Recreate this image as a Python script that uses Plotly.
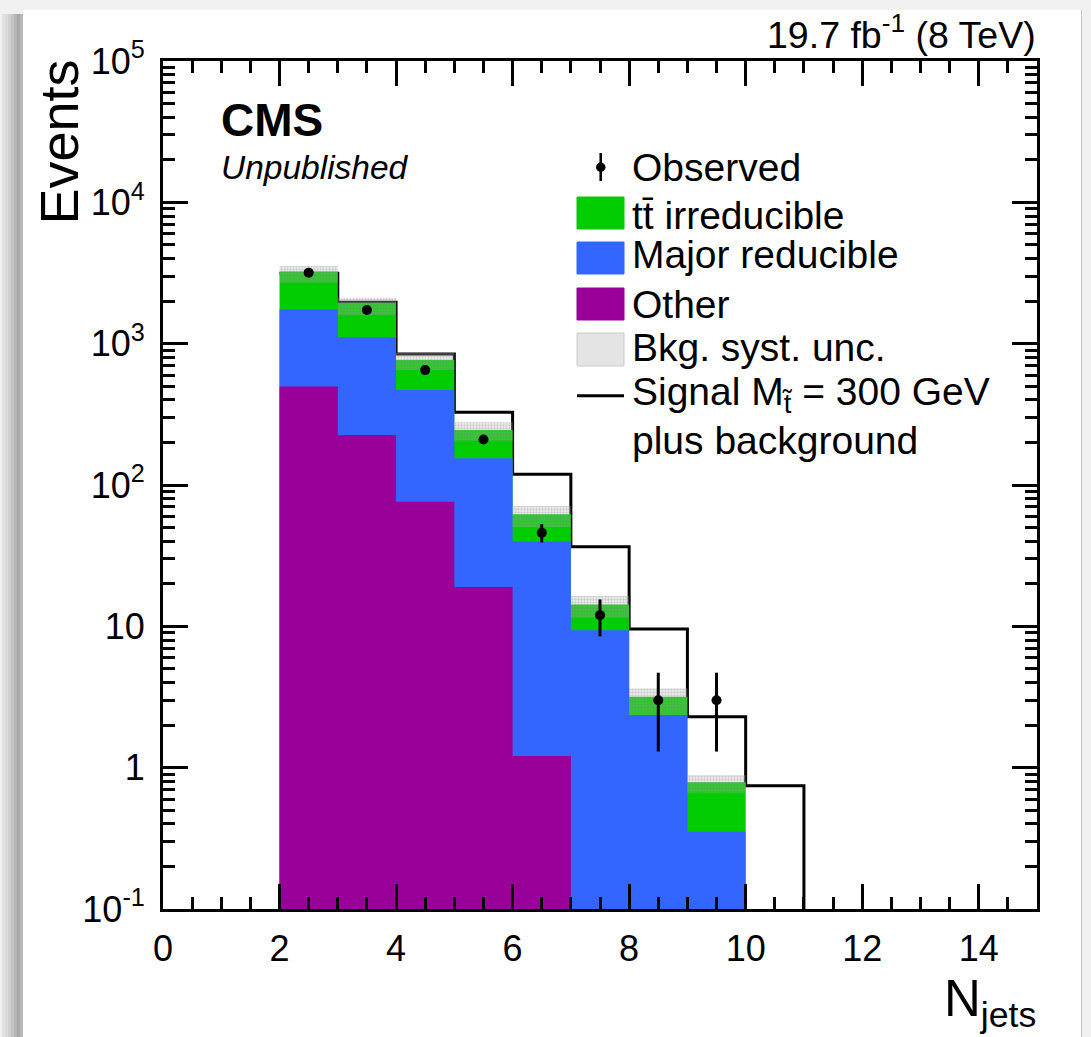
import plotly.graph_objects as go

# ---------------- data ----------------
# background bins (lower edges, width 1), N_jets = 2 .. 9
bin_low = [2, 3, 4, 5, 6, 7, 8, 9]
other = [497, 226, 76, 19, 1.21, 0, 0, 0]
major_reducible = [1253, 883, 394, 135.5, 38.5, 9.4, 2.36, 0.352]
ttbar_irreducible = [1478, 841, 296, 90.5, 22.3, 4.9, 0.82, 0.435]
bkg_unc_low = [2700, 1595, 651, 205.8, 50.2, 11.5, 2.36, 0.665]
bkg_unc_high = [3544, 2114, 863, 277.7, 71.0, 16.4, 3.64, 0.887]

# signal (M_stop = 300 GeV) plus background, N_jets = 2 .. 10
sig_bin_low = [2, 3, 4, 5, 6, 7, 8, 9, 10]
signal_plus_bkg = [3150, 1960, 845, 327, 119, 36.6, 9.57, 2.29, 0.746]

# observed data
obs_njets = [2.5, 3.5, 4.5, 5.5, 6.5, 7.5, 8.5, 9.5]
observed = [3180, 1730, 650, 210, 46, 12, 3, 3]
observed_err = [56, 42, 25, 14.5, 6.8, 3.5, 1.7, 1.7]

x_tick_vals = [0, 2, 4, 6, 8, 10, 12, 14]
y_tick_vals = [0.1, 1, 10, 100, 1000, 1e4, 1e5]
y_tick_text = ["10<sup>-1</sup>", "1", "10", "10<sup>2</sup>", "10<sup>3</sup>",
               "10<sup>4</sup>", "10<sup>5</sup>"]

# ---------------- geometry helpers ----------------
W, H = 1091, 1037
L, R, T, B = 163, 54, 61, 128
PW, PH = W - L - R, H - T - B
FONT = "Liberation Sans, Arial, Helvetica, sans-serif"
FLOOR = 1e-3  # below the visible log range, used to close filled outlines


def px(x):
    return (x - L) / PW


def py(y):
    return (H - B - y) / PH


def step_outline(lows, tops, rise=True):
    xs, ys = ([lows[0]], [FLOOR]) if rise else ([], [])
    for lo, top in zip(lows, tops):
        v = top if top > 0 else FLOOR
        xs += [lo, lo + 1]
        ys += [v, v]
    xs.append(lows[-1] + 1)
    ys.append(FLOOR)
    return xs, ys


lower_two = [o + m for o, m in zip(other, major_reducible)]
total_bkg = [s + t for s, t in zip(lower_two, ttbar_irreducible)]

fig = go.Figure()

# signal + background outline (drawn first so the stack hides it where lower)
sx, sy = step_outline(sig_bin_low, signal_plus_bkg, rise=False)
fig.add_trace(go.Scatter(x=sx, y=sy, mode="lines",
                         line=dict(color="black", width=3), hoverinfo="skip"))

# stacked background, largest outline first
for tops, color in [(total_bkg, "#00cc00"), (lower_two, "#3366ff"), (other, "#990099")]:
    xs, ys = step_outline(bin_low, tops)
    fig.add_trace(go.Scatter(x=xs, y=ys, mode="lines", fill="toself",
                             fillcolor=color, line=dict(width=0), hoverinfo="skip"))

# background systematic uncertainty band
ux, uy = [], []
for lo, a, b in zip(bin_low, bkg_unc_low, bkg_unc_high):
    ux += [lo, lo + 1, lo + 1, lo, lo, None]
    uy += [a, a, b, b, a, None]
fig.add_trace(go.Scatter(
    x=ux, y=uy, mode="lines", fill="toself", line=dict(width=0),
    fillcolor="rgba(0,0,0,0)",
    fillpattern=dict(shape=".", size=3, solidity=0.5,
                     fgcolor="rgba(120,120,120,0.6)", bgcolor="rgba(200,200,200,0.25)"),
    hoverinfo="skip"))

# observed data
fig.add_trace(go.Scatter(
    x=obs_njets, y=observed, mode="markers",
    marker=dict(color="black", size=10),
    error_y=dict(type="data", array=observed_err, thickness=3, width=0, color="black")))

# ---------------- page background with drop shadow ----------------
shapes = [
    dict(type="rect", xref="paper", yref="paper", layer="below",
         x0=px(23), x1=px(1081), y0=py(10), y1=py(1040),
         fillcolor="white", line=dict(width=0)),
    dict(type="line", xref="paper", yref="paper", layer="below",
         x0=px(1081.5), x1=px(1081.5), y0=py(10), y1=py(1040),
         line=dict(color="#c8c8c8", width=1)),
]
for i, c in enumerate(["#e2e2e2", "#dadada", "#d0d0d0", "#c4c4c4",
                       "#b6b6b6", "#a8a8a8", "#b8b8b8"]):
    x0 = 3 * i + 2
    shapes.append(dict(type="rect", xref="paper", yref="paper", layer="below",
                       x0=px(x0), x1=px(x0 + 3), y0=py(14), y1=py(1040),
                       fillcolor=c, line=dict(width=0)))

# ---------------- legend (drawn by hand) ----------------
LX0, LX1 = 577, 624
for (y0, y1), color, edge in [((197, 229), "#00cc00", "#00cc00"),
                              ((242, 274), "#3366ff", "#3366ff"),
                              ((288, 320), "#990099", "#990099"),
                              ((333, 366), "#e4e4e4", "#cccccc")]:
    shapes.append(dict(type="rect", xref="paper", yref="paper",
                       x0=px(LX0), x1=px(LX1), y0=py(y1), y1=py(y0),
                       fillcolor=color, line=dict(color=edge, width=1)))
shapes.append(dict(type="line", xref="paper", yref="paper",
                   x0=px(LX0), x1=px(LX1), y0=py(395.7), y1=py(395.7),
                   line=dict(color="black", width=3)))
shapes.append(dict(type="line", xref="paper", yref="paper",
                   x0=px(600.7), x1=px(600.7), y0=py(153), y1=py(181),
                   line=dict(color="black", width=2.5)))
shapes.append(dict(type="circle", xref="paper", yref="paper",
                   x0=px(596), x1=px(605.5), y0=py(172), y1=py(162.5),
                   fillcolor="black", line=dict(width=0)))

annotations = []


def label(text, x, y, size, xanchor="left", yanchor="middle", **kw):
    annotations.append(dict(text=text, x=px(x), y=py(y), xref="paper", yref="paper",
                            xanchor=xanchor, yanchor=yanchor, showarrow=False,
                            font=dict(family=FONT, size=size, color="black"), **kw))


leg_size = 39
label("Observed", 630, 167, leg_size)
label("tt\u0304 irreducible", 630, 216, leg_size)
label("Major reducible", 630, 255, leg_size)
label("Other", 630, 304, leg_size)
label("Bkg. syst. unc.", 630, 347, leg_size)
label("Signal M<sub>t\u0303</sub> = 300 GeV", 630, 394, leg_size)
label("plus background", 630, 441, leg_size)

label("<b>CMS</b>", 219, 120, 46)
label("<i>Unpublished</i>", 219, 167, 33.5)
label("19.7 fb<sup>-1</sup> (8 TeV)", 1038, 32, 37.5, xanchor="right")
label("Events", 59, 58, 54, xanchor="center", yanchor="top", textangle=-90)
label("N<sub>jets</sub>", 1038, 1002, 51, xanchor="right")

fig.update_layout(
    width=W, height=H, autosize=False,
    margin=dict(l=L, r=R, t=T, b=B, pad=0),
    paper_bgcolor="#f1f1f1", plot_bgcolor="white",
    showlegend=False,
    font=dict(family=FONT, color="black"),
    shapes=shapes, annotations=annotations,
)
fig.update_xaxes(
    range=[0, 15], tickvals=x_tick_vals, ticks="inside", ticklen=25, tickwidth=2.5,
    tickcolor="black", showline=True, linecolor="black", linewidth=3, mirror="ticks",
    showgrid=False, zeroline=False, tickfont=dict(size=36, family=FONT),
    ticklabelstandoff=6,
    minor=dict(dtick=0.5, ticks="inside", ticklen=12, tickwidth=2.5, tickcolor="black",
               showgrid=False),
)
y_minor = [m * 10 ** k for k in range(-1, 5) for m in range(2, 10)]
fig.update_yaxes(
    type="log", range=[-1, 5], tickvals=y_tick_vals, ticktext=y_tick_text,
    ticks="inside", ticklen=25, tickwidth=2.5, tickcolor="black",
    showline=True, linecolor="black", linewidth=3, mirror="ticks",
    showgrid=False, zeroline=False, tickfont=dict(size=36, family=FONT),
    ticklabelstandoff=8,
    minor=dict(tickvals=y_minor, ticks="inside", ticklen=12, tickwidth=2.5,
               tickcolor="black", showgrid=False),
)

fig.write_html("out.html")
